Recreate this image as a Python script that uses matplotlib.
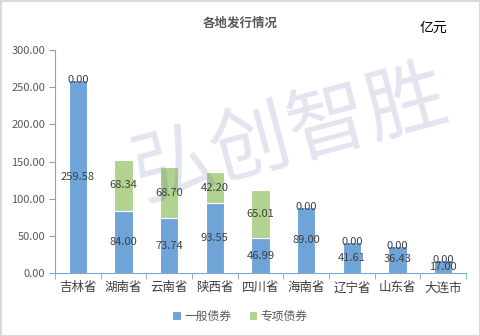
import matplotlib
matplotlib.use("Agg")
import matplotlib.pyplot as plt
from matplotlib.patches import Rectangle

plt.rcParams['font.family'] = ['Noto Sans CJK SC', 'DejaVu Sans']

categories = ['吉林省', '湖南省', '云南省', '陕西省', '四川省', '海南省', '辽宁省', '山东省', '大连市']
general = [259.58, 84.00, 73.74, 93.55, 46.99, 89.00, 41.61, 36.43, 17.00]
special = [0.00, 68.34, 68.70, 42.20, 65.01, 0.00, 0.00, 0.00, 0.00]
yticks = [0, 50, 100, 150, 200, 250, 300]

W, H = 480, 336
fig = plt.figure(figsize=(W / 100, H / 100), dpi=100)
ax = fig.add_axes([55 / W, 1 - 273 / H, (466 - 55) / W, (273 - 50) / H])

blue = '#6fa4d9'
green = '#b1d38f'
x = list(range(len(categories)))
bw = 0.40
ax.bar(x, general, width=bw, color=blue, edgecolor='white', linewidth=0.8, label='一般债券', zorder=2)
ax.bar(x, special, width=bw, bottom=general, color=green, edgecolor='white', linewidth=0.8, label='专项债券', zorder=2)

lab_col = '#404040'
for i in x:
    g, s = general[i], special[i]
    ax.text(i, g / 2, f'{g:.2f}', ha='center', va='center', fontsize=8, color=lab_col, zorder=4)
    ax.text(i, g + s / 2, f'{s:.2f}', ha='center', va='center', fontsize=8, color=lab_col, zorder=4)

ax.set_xlim(-0.5, len(categories) - 0.5)
ax.set_ylim(0, 300)
ax.set_yticks(yticks)
ax.set_yticklabels([f'{v:.2f}' for v in yticks], fontsize=8, color='#595959')
ax.set_xticks(x)
ax.set_xticklabels(categories, fontsize=9, color='#404040')
ax.tick_params(axis='x', length=0, pad=6)
ax.set_xticks([i + 0.5 for i in range(-1, len(categories))], minor=True)
ax.tick_params(axis='x', which='minor', length=4, color='#7aa6d6', direction='out')
ax.tick_params(axis='y', length=4, color='#7aa6d6', direction='out', pad=3)
for sp in ['top', 'right']:
    ax.spines[sp].set_visible(False)
ax.spines['left'].set_color('#7aa6d6')
ax.spines['bottom'].set_color('#7aa6d6')
ax.set_facecolor('none')

fig.text(240 / W, 1 - 23 / H, '各地发行情况', ha='center', va='center', fontsize=9, fontweight='bold', color='#595959')
fig.text(433 / W, 1 - 28 / H, '亿元', ha='center', va='center', fontsize=10, color='black')

# watermark
fig.text(290 / W, 1 - 135 / H, '弘创智胜', ha='center', va='center', fontsize=58, rotation=15,
         color='#4a4aa0', alpha=0.15, zorder=10)

leg = fig.legend(loc='center', bbox_to_anchor=(240 / W, 1 - 316 / H), ncol=2, frameon=False,
                 fontsize=8.5, handlelength=0.7, handleheight=0.7, handletextpad=0.3, columnspacing=1.5)
for t in leg.get_texts():
    t.set_color('#595959')

fig.patches.append(Rectangle((0.5 / W, 0.5 / H), 1 - 1 / W, 1 - 1 / H, transform=fig.transFigure,
                             fill=False, edgecolor='#d9d9d9', linewidth=1.5))

fig.savefig('out.png', dpi=100)
